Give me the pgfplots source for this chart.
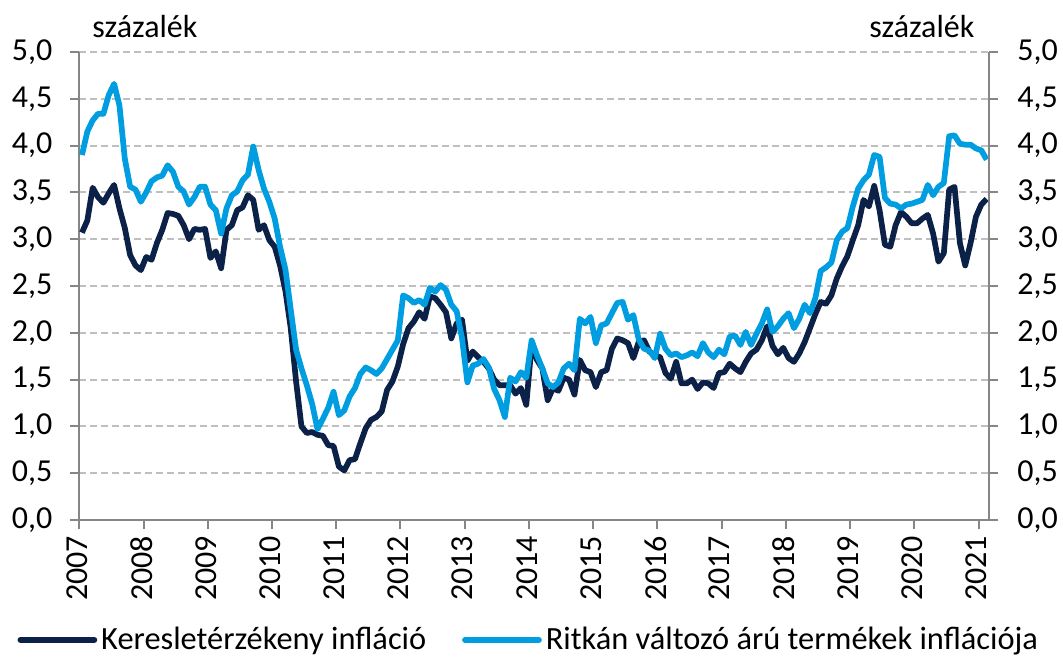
\documentclass[border=0pt]{standalone}
\usepackage{fontspec}
\setmainfont{Carlito}
\usepackage{pgfplots}
\usepackage{pgfplotstable}
\pgfplotsset{compat=1.18}
\definecolor{darkblue}{HTML}{0C2148}
\definecolor{lightblue}{HTML}{009EE0}
\definecolor{axisgray}{HTML}{868686}
\definecolor{gridgray}{HTML}{BFBFBF}

\pgfplotstableread{
i dark light
0 3.07 3.90
1 3.20 4.15
2 3.55 4.27
3 3.45 4.34
4 3.39 4.34
5 3.49 4.54
6 3.58 4.66
7 3.33 4.43
8 3.12 3.86
9 2.83 3.56
10 2.72 3.53
11 2.67 3.40
12 2.81 3.50
13 2.78 3.62
14 2.96 3.66
15 3.10 3.68
16 3.28 3.79
17 3.27 3.72
18 3.25 3.56
19 3.15 3.51
20 3.00 3.37
21 3.11 3.45
22 3.10 3.56
23 3.11 3.56
24 2.80 3.37
25 2.87 3.31
26 2.69 3.06
27 3.10 3.33
28 3.15 3.47
29 3.31 3.51
30 3.34 3.63
31 3.47 3.69
32 3.42 3.99
33 3.10 3.74
34 3.15 3.54
35 2.99 3.40
36 2.92 3.22
37 2.72 2.92
38 2.45 2.68
39 2.05 2.25
40 1.48 1.82
41 1.00 1.62
42 0.93 1.44
43 0.94 1.24
44 0.91 0.97
45 0.90 1.08
46 0.80 1.20
47 0.79 1.37
48 0.57 1.12
49 0.53 1.17
50 0.64 1.32
51 0.65 1.41
52 0.82 1.56
53 0.98 1.63
54 1.07 1.60
55 1.10 1.56
56 1.16 1.62
57 1.39 1.72
58 1.48 1.82
59 1.64 1.92
60 1.88 2.40
61 2.05 2.37
62 2.12 2.32
63 2.22 2.35
64 2.15 2.30
65 2.39 2.48
66 2.37 2.44
67 2.30 2.51
68 2.22 2.46
69 1.94 2.30
70 2.10 2.23
71 2.14 1.94
72 1.70 1.47
73 1.80 1.65
74 1.74 1.67
75 1.69 1.72
76 1.62 1.63
77 1.50 1.40
78 1.44 1.28
79 1.44 1.10
80 1.44 1.52
81 1.35 1.48
82 1.41 1.58
83 1.23 1.52
84 1.87 1.92
85 1.71 1.76
86 1.62 1.62
87 1.28 1.46
88 1.41 1.42
89 1.38 1.47
90 1.52 1.62
91 1.50 1.67
92 1.34 1.60
93 1.71 2.15
94 1.60 2.10
95 1.58 2.17
96 1.42 1.89
97 1.58 2.08
98 1.60 2.10
99 1.83 2.21
100 1.94 2.32
101 1.92 2.33
102 1.89 2.14
103 1.73 2.19
104 1.90 1.93
105 1.92 1.83
106 1.80 1.81
107 1.76 1.73
108 1.74 1.99
109 1.57 1.83
110 1.51 1.76
111 1.69 1.78
112 1.46 1.74
113 1.46 1.76
114 1.50 1.79
115 1.40 1.75
116 1.47 1.89
117 1.46 1.79
118 1.41 1.74
119 1.57 1.82
120 1.58 1.77
121 1.67 1.96
122 1.62 1.97
123 1.58 1.87
124 1.69 2.01
125 1.78 1.87
126 1.82 1.99
127 1.92 2.10
128 2.07 2.25
129 1.86 2.01
130 1.77 2.07
131 1.84 2.15
132 1.73 2.21
133 1.69 2.05
134 1.78 2.15
135 1.90 2.30
136 2.05 2.21
137 2.20 2.37
138 2.33 2.66
139 2.31 2.70
140 2.40 2.75
141 2.58 2.99
142 2.71 3.08
143 2.82 3.12
144 2.99 3.35
145 3.15 3.54
146 3.42 3.63
147 3.35 3.69
148 3.57 3.90
149 3.31 3.88
150 2.94 3.44
151 2.92 3.38
152 3.15 3.37
153 3.29 3.33
154 3.24 3.37
155 3.17 3.38
156 3.17 3.40
157 3.22 3.42
158 3.26 3.58
159 3.06 3.47
160 2.76 3.56
161 2.85 3.60
162 3.53 4.10
163 3.56 4.11
164 2.96 4.02
165 2.72 4.01
166 2.96 4.01
167 3.24 3.97
168 3.37 3.95
169 3.43 3.85
}\datatable

\begin{document}
\begin{tikzpicture}
\useasboundingbox (-39.65pt,-70pt) rectangle (491.85pt,260pt);
\pgfplotsset{
  common/.style={
    scale only axis, width=455pt, height=234pt,
    xmin=-0.5, xmax=169.5, ymin=0, ymax=5,
    at={(0,0)}, anchor=south west,
    ytick={0,0.5,1,1.5,2,2.5,3,3.5,4,4.5,5},
    tick align=outside,
    major tick length=4.5pt,
    every tick/.style={axisgray, line width=1pt},
    axis line style={axisgray, line width=1pt},
    tick label style={font=\fontsize{16}{19}\selectfont},
    yticklabel style={/pgf/number format/fixed, /pgf/number format/fixed zerofill,
      /pgf/number format/precision=1, /pgf/number format/use comma,
      /pgf/number format/assume math mode=true},
    clip=false,
  }
}
\begin{axis}[common,
  axis x line*=bottom, axis y line*=left,
  xtick={-0.5,11.5,...,167.5},
  xticklabels={2007,2008,2009,2010,2011,2012,2013,2014,2015,2016,2017,2018,2019,2020,2021},
  xticklabel style={rotate=90, anchor=east, /tikz/yshift=1pt},
  yticklabel style={/tikz/xshift=-5.5pt},
  ymajorgrids,
  grid style={gridgray, line width=1pt, dash pattern=on 3.5pt off 2pt},
  legend style={at={(0.495,-0.256)}, anchor=center, draw=none, fill=none,
    font=\fontsize{16.2}{19}\selectfont, legend columns=2,
    /tikz/every even column/.append style={column sep=16pt}},
  legend cell align=left,
  legend image code/.code={\draw[#1, line cap=round] (0pt,0pt) -- (37pt,0pt);},
]
\addplot[darkblue, line width=2.85pt, line join=round] table[x=i,y=dark]{\datatable};
\addlegendentry{Keresletérzékeny infláció}
\addplot[lightblue, line width=2.85pt, line join=round] table[x=i,y=light]{\datatable};
\addlegendentry{Ritkán változó árú termékek inflációja}
\node[anchor=base west, font=\fontsize{16}{19}\selectfont, inner sep=0pt] at (rel axis cs:0.014,1.03) {százalék};
\node[anchor=base east, font=\fontsize{16}{19}\selectfont, inner sep=0pt] at (rel axis cs:0.984,1.03) {százalék};
\end{axis}
\begin{axis}[common, axis x line=none, axis y line*=right, yticklabel style={/tikz/xshift=6pt}]
\end{axis}
\end{tikzpicture}
\end{document}
